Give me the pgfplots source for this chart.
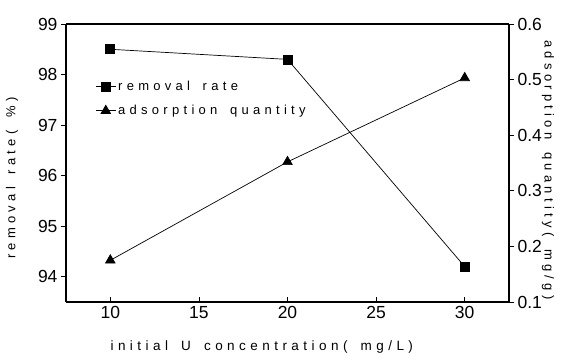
\documentclass[border=0pt]{standalone}
\usepackage{fontspec}
\setmainfont{Liberation Sans}
\newfontfamily\spaced[LetterSpace=33,WordSpace=1.6]{Liberation Sans}
\usepackage{pgfplots}
\pgfplotsset{compat=1.18}
\begin{document}
\begin{tikzpicture}[x=1pt,y=1pt]
\useasboundingbox (0,0) rectangle (568,356);
\begin{axis}[
  at={(66pt,54pt)}, anchor=origin,
  scale only axis, width=443pt, height=278pt,
  xmin=7.5, xmax=32.5, ymin=93.5, ymax=99,
  xtick={10,15,20,25,30}, ytick={94,95,96,97,98,99},
  axis y line*=left, axis x line*=bottom,
  x axis line style={-}, y axis line style={-},
  axis line style={line width=1.3pt},
  xtick style={line width=0.8pt, black}, ytick style={line width=0.8pt, black},
  x tick label style={yshift=-1pt},
  tick align=outside,
  xtick align=inside,
  major tick length=5pt,
  /pgf/number format/assume math mode=true,
  tick label style={font=\fontsize{17.5}{17.5}\selectfont},
  ylabel={\spaced removal rate( \%)},
  ylabel style={font=\fontsize{13}{13}\selectfont, at={(axis description cs:-0.122,0.445)}, anchor=center},
  xlabel={\spaced initial U concentration( mg/L)},
  xlabel style={font=\fontsize{13.5}{13.5}\selectfont, at={(axis description cs:0.442,-0.162)}, anchor=center},
  legend style={draw=none, fill=none, at={(axis cs:9.15,97.52)}, anchor=west,
    font=\fontsize{13}{13}\selectfont, row sep=9pt, inner sep=0pt,
    /tikz/every even column/.append style={column sep=1pt}},
  legend cell align=left,
  legend image code/.code={\draw[mark repeat=2,mark phase=2,line width=0.7pt] plot coordinates {(0pt,0pt)(10pt,0pt)(20pt,0pt)};},
  clip=false,
]
\draw[line width=1.3pt] (rel axis cs:0,1) -- (rel axis cs:1,1);
\addplot[black, line width=0.7pt, mark=square*, mark size=4.5pt, mark options={solid}] coordinates {(10,98.5) (20,98.3) (30,94.2)};
\addlegendentry{\spaced removal rate}
\addlegendimage{black, line width=0.7pt, mark=triangle*, mark size=5.5pt}
\addlegendentry{\spaced adsorption quantity}
\end{axis}
\begin{axis}[
  at={(66pt,54pt)}, anchor=origin,
  scale only axis, width=443pt, height=278pt,
  xmin=7.5, xmax=32.5, ymin=0.1, ymax=0.6,
  axis x line=none, axis y line*=right,
  y axis line style={-, line width=1.3pt},
  ytick={0.1,0.2,0.3,0.4,0.5,0.6},
  yticklabel style={/pgf/number format/fixed, /pgf/number format/precision=1, /pgf/number format/fixed zerofill},
  ytick style={line width=0.8pt, black},
  tick align=outside, major tick length=5pt,
  /pgf/number format/assume math mode=true,
  tick label style={font=\fontsize{17.5}{17.5}\selectfont},
  ylabel={\spaced adsorption quantity( mg/g)},
  ylabel style={font=\fontsize{13}{13}\selectfont, rotate=180, at={(axis description cs:1.088,0.475)}, anchor=center},
  clip=false,
]
\addplot[black, line width=0.7pt, mark=triangle*, mark size=5.5pt] coordinates {(10,0.175) (20,0.352) (30,0.503)};
\end{axis}
\end{tikzpicture}
\end{document}
